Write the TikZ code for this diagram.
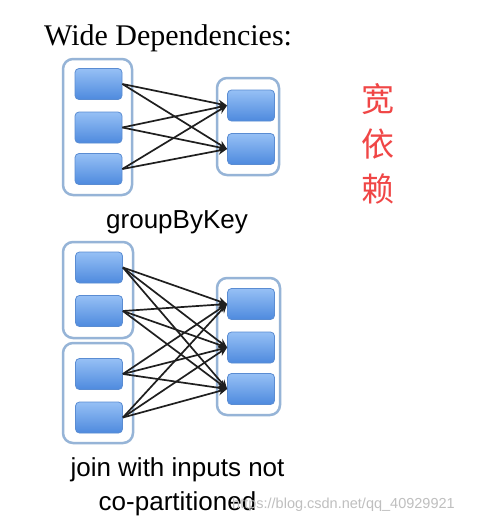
\documentclass[tikz,border=0pt]{standalone}
\usepackage{fontspec}
\setmainfont{Liberation Serif}
\setsansfont{Liberation Sans}
\newfontfamily\cjk{Noto Sans CJK SC}
\usetikzlibrary{arrows.meta}
\definecolor{contcol}{RGB}{150,180,215}
\definecolor{boxedge}{RGB}{90,140,210}
\definecolor{boxtop}{RGB}{150,192,245}
\definecolor{boxbot}{RGB}{78,138,222}
\definecolor{cnred}{RGB}{240,70,70}
\tikzset{
  part/.style={draw=boxedge, line width=0.8pt, rounded corners=4pt, top color=boxtop, bottom color=boxbot, minimum width=47pt, minimum height=31pt, inner sep=0pt},
  container/.style={draw=contcol, line width=2.5pt, rounded corners=10pt, fill=white, inner sep=0pt},
  dep/.style={draw=black!88, line width=1.7pt, -{Stealth[length=9pt,width=8pt]}},
  caption/.style={font=\sffamily\fontsize{26}{30}\selectfont, inner sep=0pt, anchor=base},
}
\begin{document}
\begin{tikzpicture}[x=1pt,y=-1pt]
\useasboundingbox (0,0) rectangle (478,522);
\fill[white] (0,0) rectangle (478,522);
% title
\node[anchor=base west, inner sep=0pt, font=\rmfamily\fontsize{30}{36}\selectfont] (title) at (44,45) {Wide Dependencies:};
% top group containers
\node[container, minimum width=69pt, minimum height=136pt] (CL) at (97.5,127) {};
\node[container, minimum width=62pt, minimum height=97pt] (CR) at (248,126.5) {};
\node[part] (L1) at (98.5,84) {};
\node[part] (L2) at (98.5,127.5) {};
\node[part] (L3) at (98.5,169) {};
\node[part] (R1) at (251,105.5) {};
\node[part] (R2) at (251,149) {};
\foreach \a in {L1,L2,L3}{\foreach \b in {R1,R2}{\draw[dep] (\a.east) -- (\b.west);}}
\node[caption] (gbk) at (177,228) {groupByKey};
% bottom group containers
\node[container, minimum width=70pt, minimum height=96pt] (DA) at (98,290) {};
\node[container, minimum width=70pt, minimum height=100pt] (DB) at (98,393) {};
\node[container, minimum width=63pt, minimum height=137pt] (DR) at (248.5,346.5) {};
\node[part] (A1) at (99,267.5) {};
\node[part] (A2) at (99,311) {};
\node[part] (A3) at (99,374) {};
\node[part] (A4) at (99,417.5) {};
\node[part] (B1) at (251,304) {};
\node[part] (B2) at (251,347.5) {};
\node[part] (B3) at (251,389) {};
\foreach \a in {A1,A2,A3,A4}{\foreach \b in {B1,B2,B3}{\draw[dep] (\a.east) -- (\b.west);}}
\node[caption] (join1) at (177.5,476) {join with inputs not};
\node[caption] (join2) at (177.5,510) {co-partitioned};
% watermark
\node[anchor=base west, inner sep=0pt, text=black!25, font=\sffamily\fontsize{14.5}{16}\selectfont] (wm) at (232,508) {https://blog.csdn.net/qq\_40929921};
% chinese label
\node[text=cnred, font=\cjk\fontsize{33}{45}\selectfont, align=center, inner sep=0pt] (cn) at (378,144) {宽\\依\\赖};
\end{tikzpicture}
\end{document}
